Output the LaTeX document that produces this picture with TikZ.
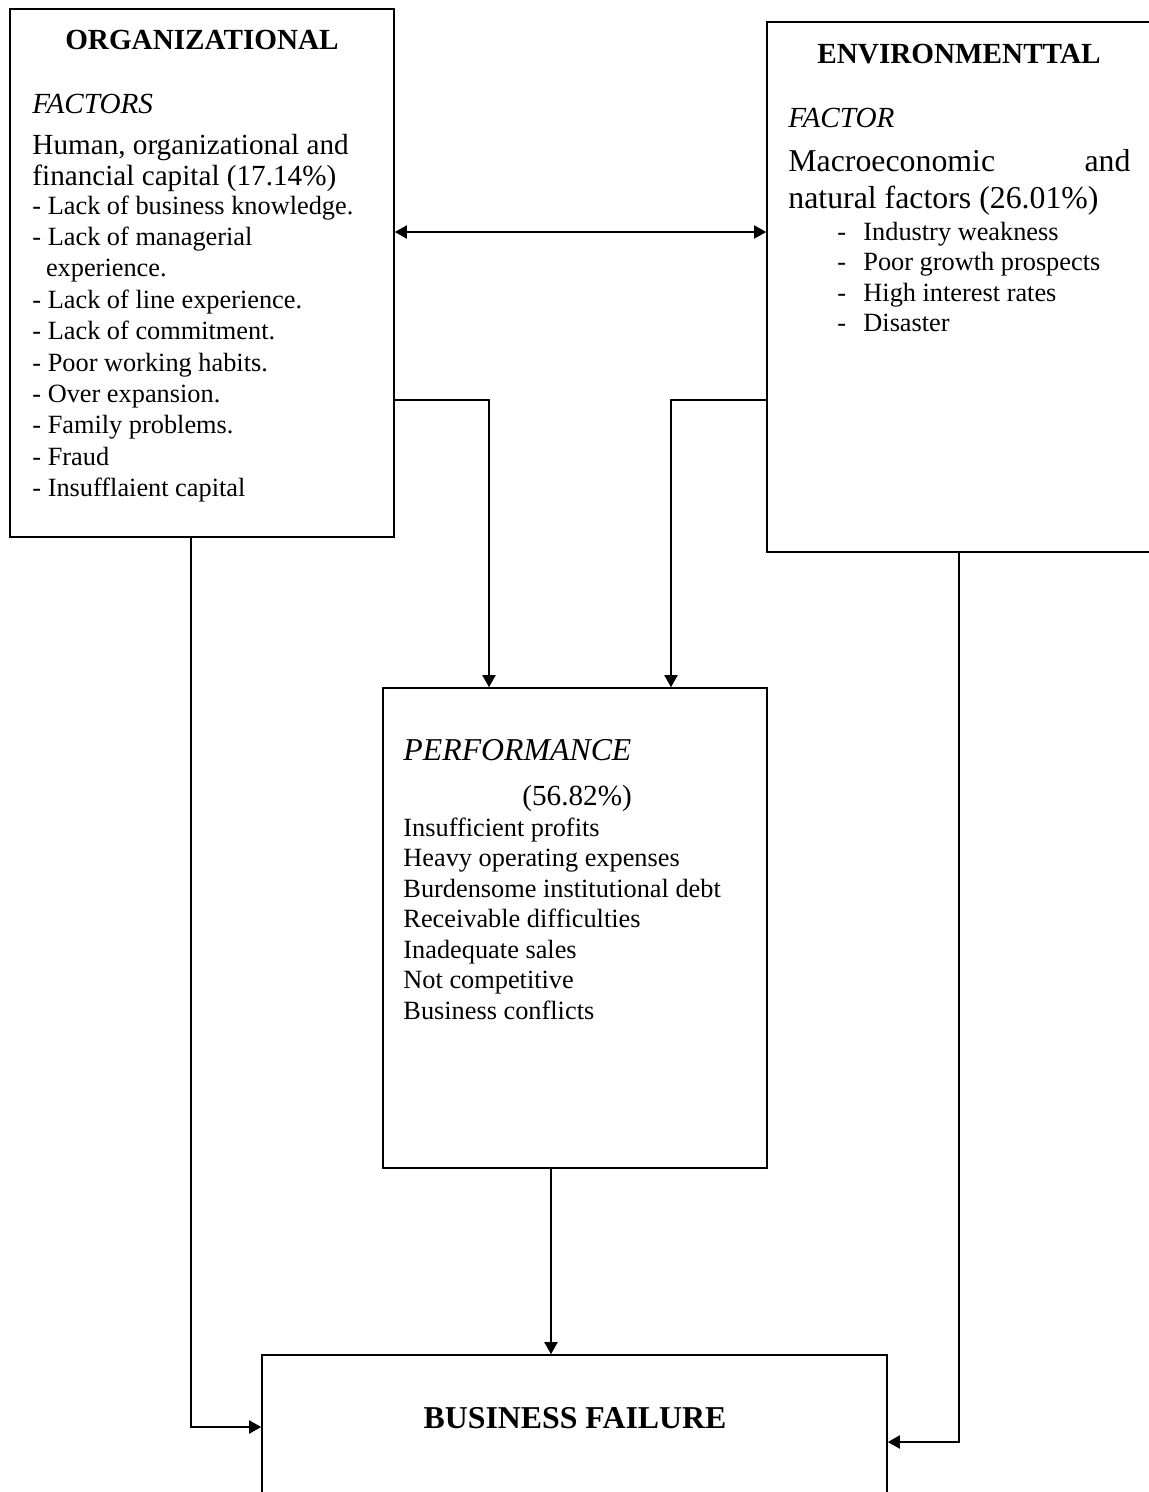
\documentclass[tikz,border=0pt]{standalone}
\usepackage{fontspec}
\setmainfont{Liberation Serif}
\usetikzlibrary{arrows.meta,fit}
\begin{document}
\begin{tikzpicture}[x=0.4558pt, y=-0.4558pt,
  box/.style={draw, line width=0.75pt, inner sep=0pt},
  tipA/.tip={Triangle[length=5.5pt,width=6pt]},
  arr/.style={line width=0.75pt, -tipA},
  arrboth/.style={line width=0.75pt, tipA-tipA},
  txt/.style={inner sep=0pt, anchor=base west},
  hd/.style={txt, anchor=base, font=\fontsize{13.3}{16}\selectfont\bfseries},
  itl/.style={txt, font=\fontsize{13.3}{16}\selectfont\itshape},
  bigo/.style={txt, font=\fontsize{13.3}{16}\selectfont},
  bige/.style={txt, font=\fontsize{14.5}{17}\selectfont},
  lst/.style={txt, font=\fontsize{12}{14}\selectfont}]
\useasboundingbox (0,0) rectangle (1149,1492);
\clip (0,0) rectangle (1149,1492);

% boxes
\node[box, fit={(10,9) (394,537)}] (org) {};
\node[box, fit={(767,22) (1170,552)}] (env) {};
\node[box, fit={(383,688) (767,1168)}] (perf) {};
\node[box, fit={(262,1355) (887,1520)}] (bf) {};

% organizational box text
\node[hd] (ot) at (202,49) {ORGANIZATIONAL};
\node[itl] (of) at (32,113) {FACTORS};
\node[bigo] (oh1) at (32,154) {Human, organizational and};
\node[bigo] (oh2) at (32,185) {financial capital (17.14\%)};
\foreach \x [count=\i from 0] in {- Lack of business knowledge.,- Lack of managerial,\hspace*{6.2pt}experience.,- Lack of line experience.,- Lack of commitment.,- Poor working habits.,- Over expansion.,- Family problems.,- Fraud,- Insufflaient capital}
  \node[lst] (ol\i) at (32, 214+31.4*\i) {\x};

% environmental box text
\node[hd] (et) at (959,63) {ENVIRONMENTTAL};
\node[itl] (ef) at (788,127) {FACTOR};
\node[bige] (em1) at (788,171) {\hbox to 155.9pt{Macroeconomic\hfill and}};
\node[bige] (em2) at (788,208) {natural factors (26.01\%)};
\foreach \x [count=\i from 0] in {Industry weakness,Poor growth prospects,High interest rates,Disaster}
  \node[lst] (el\i) at (837, 240+30.5*\i) {\hbox to 11.85pt{-\hfil}\x};

% performance box text
\node[txt, font=\fontsize{14.5}{17}\selectfont\itshape] (pt) at (403,760) {PERFORMANCE};
\node[txt, font=\fontsize{13.3}{16}\selectfont] (pp) at (522,805) {(56.82\%)};
\foreach \x [count=\i from 0] in {Insufficient profits,Heavy operating expenses,Burdensome institutional debt,Receivable difficulties,Inadequate sales,Not competitive,Business conflicts}
  \node[lst] (pl\i) at (403, 836+30.5*\i) {\x};

% business failure
\node[txt, anchor=base, font=\fontsize{14.5}{17}\selectfont\bfseries] (bt) at (575,1428) {BUSINESS FAILURE};

% junction coordinates
\coordinate (da) at (0,232);
\coordinate (ja) at (489,400);
\coordinate (jb) at (671,400);
\coordinate (jc) at (191,1427);
\coordinate (jd) at (959,1442);
\coordinate (je) at (551,0);

% connectors
\draw[arrboth] (org.east |- da) -- (env.west |- da);
\draw[arr] (org.east |- ja) -| (perf.north -| ja);
\draw[arr] (env.west |- jb) -| (perf.north -| jb);
\draw[arr] (org.south -| jc) |- (bf.west |- jc);
\draw[arr] (env.south -| jd) |- (bf.east |- jd);
\draw[arr] (perf.south -| je) -- (bf.north -| je);
\end{tikzpicture}
\end{document}
